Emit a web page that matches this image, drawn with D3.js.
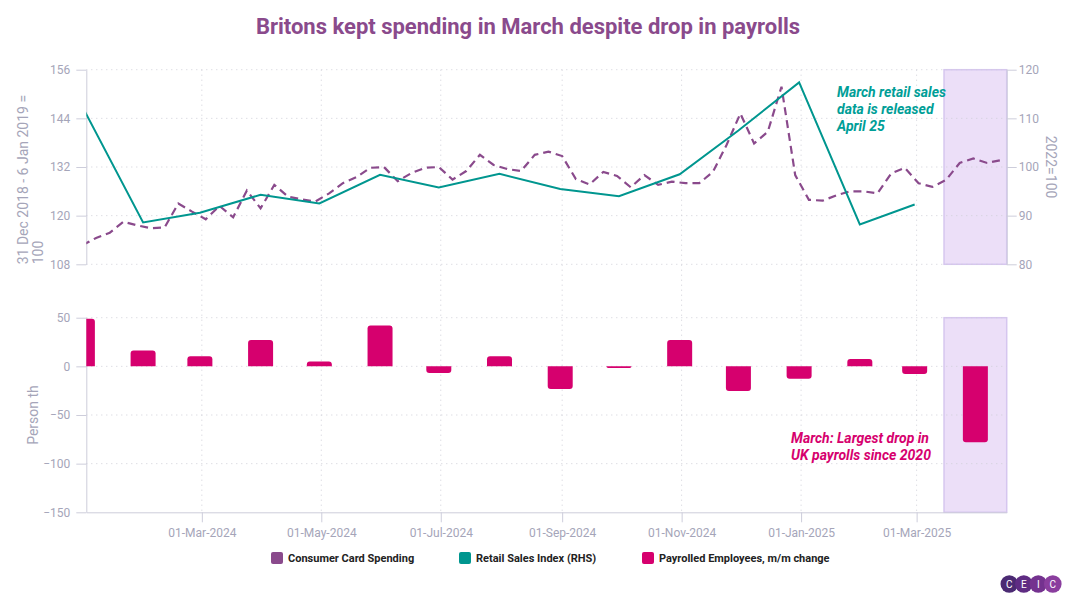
<!DOCTYPE html>
<html>
<head>
<meta charset="utf-8">
<script src="https://cdn.jsdelivr.net/npm/d3@7"></script>
<style>
  body { margin: 0; background: #fff; }
  svg { font-family: Roboto, "Noto Sans", sans-serif; }
  .grid line { stroke: #cfcfd8; stroke-dasharray: 1,4; }
  .axis path, .axis line { stroke: #cdcddb; }
  .axis text { fill: #a5a5b9; font-size: 12px; font-family: Roboto, sans-serif; }
  .axis-title { fill: #a5a5b9; font-size: 14px; }
</style>
</head>
<body>
<svg width="1072" height="603"></svg>
<script>
// ---- data ----
const months = ["2023-12", "2024-01", "2024-02", "2024-03", "2024-04", "2024-05", "2024-06", "2024-07",
  "2024-08", "2024-09", "2024-10", "2024-11", "2024-12", "2025-01", "2025-02", "2025-03"];
const payrolls = [49, 16.4, 10.3, 27, 5.1, 42, -6.9, 10.3, -23.3, -1.7, 27, -25.4, -12.7, 7.5, -7.9, -78];
// retail sales index (RHS), Dec 2023 .. Feb 2025
const retailSales = [112.4, 88.6, 90.6, 94.3, 92.5, 98.4, 95.8, 98.6, 95.5, 94.0, 98.5, 107.5, 117.4, 88.2, 92.3];
// weekly card spending, first week 31 Dec 2023
const cardFirstWeek = "2023-12-31";
const cardSpending = [112.7, 114.5, 115.8, 118.5, 117.6, 116.9, 117.1, 123.0, 121.0, 119.1,
  122.4, 119.6, 126.2, 121.8, 127.6, 124.7, 124.0, 123.5, 125.5, 128.0,
  129.5, 131.8, 132.0, 128.5, 130.5, 131.8, 132.0, 128.9, 131.0, 135.0,
  132.5, 131.5, 131.0, 135.0, 135.8, 134.7, 129.0, 127.7, 130.8, 129.8,
  127.0, 130.0, 127.6, 128.4, 128.0, 128.0, 130.8, 137.5, 145.2, 137.8,
  140.7, 151.8, 130.0, 123.9, 123.7, 125.0, 126.0, 126.0, 125.5, 130.4,
  131.8, 128.0, 127.1, 128.8, 133.0, 134.1, 133.0, 133.7];
const leftTicks = [108, 120, 132, 144, 156];
const rightTicks = [80, 90, 100, 110, 120];
const payrollTicks = [-150, -100, -50, 0, 50];
const dateTicks = ["2024-03-01", "2024-05-01", "2024-07-01", "2024-09-01", "2024-11-01", "2025-01-01", "2025-03-01"];
const xRange = ["2024-01-02", "2025-04-16"];
const band = ["2025-03-15", "2025-04-16"];

const C_CARD = "#8a4a8c", C_RETAIL = "#00968f", C_PAY = "#d6006e";

const parse = d3.utcParse("%Y-%m-%d");
const parseMonth = d3.utcParse("%Y-%m");
const monthEnd = m => d3.utcDay.offset(d3.utcMonth.offset(parseMonth(m), 1), -1);

const svg = d3.select("svg");
const L = 86.3, R = 1006.7;
const T0 = 69.7, T1 = 264.3, B0 = 317.7, B1 = 512.3;

const x = d3.scaleUtc().domain(xRange.map(parse)).range([L, R]);
const yL = d3.scaleLinear().domain([108, 156]).range([T1, T0]);
const yR = d3.scaleLinear().domain([80, 120]).range([T1, T0]);
const yB = d3.scaleLinear().domain([-150, 50]).range([B1, B0]);

const defs = svg.append("defs");
defs.append("clipPath").attr("id", "clipTop").append("rect")
  .attr("x", L).attr("y", T0 - 4).attr("width", R - L).attr("height", T1 - T0 + 8);
defs.append("clipPath").attr("id", "clipBot").append("rect")
  .attr("x", L).attr("y", B0).attr("width", R - L).attr("height", B1 - B0);

// title
svg.append("text").attr("x", 528).attr("y", 34).attr("text-anchor", "middle")
  .attr("fill", "#8a4a8c").attr("font-size", 22).attr("font-weight", 700)
  .text("Britons kept spending in March despite drop in payrolls");

// highlight bands
[[T0, T1], [B0, B1]].forEach(([a, b]) => {
  svg.append("rect")
    .attr("x", x(parse(band[0]))).attr("y", a)
    .attr("width", x(parse(band[1])) - x(parse(band[0]))).attr("height", b - a)
    .attr("fill", "#ecdff8").attr("stroke", "#d6c6ef").attr("stroke-width", 1.5);
});

// grid lines
const grid = svg.append("g").attr("class", "grid");
grid.selectAll(".v").data(dateTicks.map(parse)).enter().append("line")
  .attr("x1", d => x(d)).attr("x2", d => x(d)).attr("y1", T0).attr("y2", B1);
grid.selectAll(".ht").data(leftTicks).enter().append("line")
  .attr("x1", L).attr("x2", R).attr("y1", d => yL(d)).attr("y2", d => yL(d));
grid.selectAll(".hb").data(payrollTicks.filter(d => d > -150)).enter().append("line")
  .attr("x1", L).attr("x2", R).attr("y1", d => yB(d)).attr("y2", d => yB(d));

// axes
function styleAxis(g) {
  g.attr("class", "axis").attr("font-size", null).attr("font-family", null);
}
svg.append("g").attr("transform", `translate(${L},0)`)
  .call(d3.axisLeft(yL).tickValues(leftTicks).tickSize(10).tickPadding(6).tickSizeOuter(0))
  .call(styleAxis);
svg.append("g").attr("transform", `translate(${R},0)`)
  .call(d3.axisRight(yR).tickValues(rightTicks).tickSize(10).tickPadding(2).tickSizeOuter(0))
  .call(styleAxis);
svg.append("g").attr("transform", `translate(${L},0)`)
  .call(d3.axisLeft(yB).tickValues(payrollTicks).tickSize(10).tickPadding(6).tickSizeOuter(0))
  .call(styleAxis);
svg.append("g").attr("transform", `translate(0,${B1})`)
  .call(d3.axisBottom(x).tickValues(dateTicks.map(parse)).tickFormat(d3.utcFormat("%d-%b-%Y"))
    .tickSize(10).tickPadding(6).tickSizeOuter(0))
  .call(styleAxis);

// axis titles
const lt = svg.append("text").attr("class", "axis-title")
  .attr("transform", `translate(28,${T1}) rotate(-90)`).attr("text-anchor", "start");
lt.append("tspan").attr("x", 0).attr("y", 0).text("31 Dec 2018 - 6 Jan 2019 =");
lt.append("tspan").attr("x", 0).attr("y", 15).text("100");
svg.append("text").attr("class", "axis-title")
  .attr("transform", `translate(1046,${(T0 + T1) / 2}) rotate(90)`).attr("text-anchor", "middle")
  .text("2022=100");
svg.append("text").attr("class", "axis-title")
  .attr("transform", `translate(38,${(B0 + B1) / 2}) rotate(-90)`).attr("text-anchor", "middle")
  .text("Person th");

// card spending (weekly, dashed)
const cardData = cardSpending.map((v, i) => ({ date: d3.utcWeek.offset(parse(cardFirstWeek), i), v }));
svg.append("path").datum(cardData)
  .attr("clip-path", "url(#clipTop)")
  .attr("fill", "none").attr("stroke", C_CARD).attr("stroke-width", 2.2)
  .attr("stroke-dasharray", "8,5")
  .attr("d", d3.line().x(d => x(d.date)).y(d => yL(d.v)));

// retail sales (monthly, RHS)
const retailData = retailSales.map((v, i) => ({ date: monthEnd(months[i]), v }));
svg.append("path").datum(retailData)
  .attr("clip-path", "url(#clipTop)")
  .attr("fill", "none").attr("stroke", C_RETAIL).attr("stroke-width", 2)
  .attr("d", d3.line().x(d => x(d.date)).y(d => yR(d.v)));

// payroll bars
function barPath(cx, y0, y1, w, r) {
  const x0 = cx - w / 2, x1 = cx + w / 2;
  r = Math.min(r, Math.abs(y1 - y0), w / 2);
  const s = y1 < y0 ? 1 : -1;
  return `M${x0},${y0}V${y1 + s * r}Q${x0},${y1} ${x0 + r},${y1}H${x1 - r}Q${x1},${y1} ${x1},${y1 + s * r}V${y0}Z`;
}
const barW = 25;
svg.append("g").attr("clip-path", "url(#clipBot)")
  .selectAll("path").data(payrolls).enter().append("path")
  .attr("fill", C_PAY)
  .attr("d", (v, i) => barPath(x(monthEnd(months[i])), yB(0), yB(v), barW, 3));

// annotations
const a1 = svg.append("text").attr("fill", "#009e97").attr("font-size", 14)
  .attr("font-weight", 700).attr("font-style", "italic");
["March retail sales", "data is released", "April 25"].forEach((t, i) =>
  a1.append("tspan").attr("x", 837).attr("y", 97 + i * 17).text(t));
const a2 = svg.append("text").attr("fill", C_PAY).attr("font-size", 14)
  .attr("font-weight", 700).attr("font-style", "italic");
["March: Largest drop in", "UK payrolls since 2020"].forEach((t, i) =>
  a2.append("tspan").attr("x", 791).attr("y", 443 + i * 17).text(t));

// legend
const legendItems = [
  { name: "Consumer Card Spending", color: C_CARD, x: 271 },
  { name: "Retail Sales Index (RHS)", color: C_RETAIL, x: 459 },
  { name: "Payrolled Employees, m/m change", color: C_PAY, x: 642 }
];
const lg = svg.append("g").selectAll("g").data(legendItems).enter().append("g")
  .attr("transform", d => `translate(${d.x},552)`);
lg.append("rect").attr("width", 12).attr("height", 12).attr("rx", 2).attr("fill", d => d.color);
lg.append("text").attr("x", 17).attr("y", 10).attr("font-size", 11).attr("font-weight", 700)
  .attr("fill", "#222").text(d => d.name);

// logo
const logoColors = ["#4b2a73", "#5f2c83", "#74328f", "#8a3e9e"];
const logo = svg.append("g").attr("transform", "translate(1009.3,584)");
"CEIC".split("").forEach((ch, i) => {
  logo.append("circle").attr("cx", i * 14.5).attr("r", 8.8).attr("fill", logoColors[i]);
});
"CEIC".split("").forEach((ch, i) => {
  logo.append("text").attr("x", i * 14.5).attr("y", 3.6).attr("text-anchor", "middle")
    .attr("fill", "#fff").attr("font-size", 10).text(ch);
});
</script>
</body>
</html>
